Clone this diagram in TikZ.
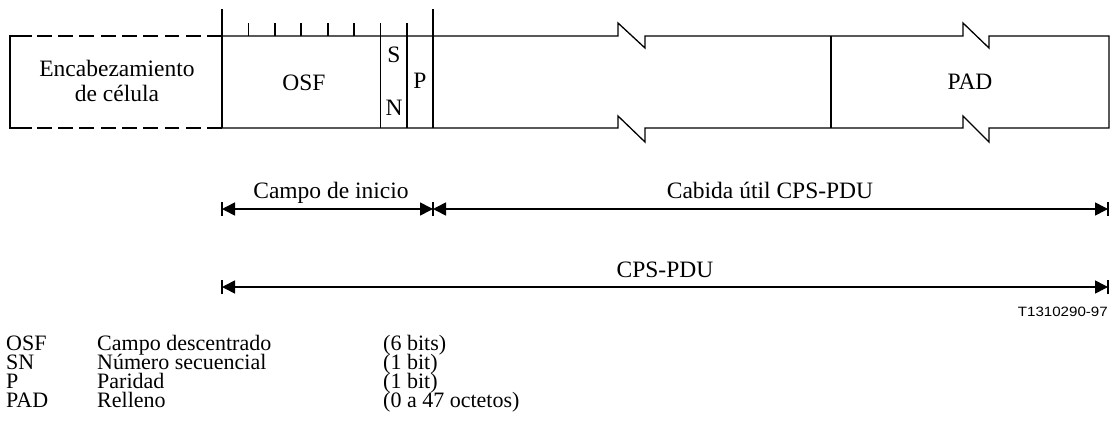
\documentclass[tikz,border=0pt]{standalone}
\usepackage{fontspec}
\setmainfont{Liberation Serif}
\newfontfamily\figsans{Liberation Sans}
\usetikzlibrary{arrows.meta}
\begin{document}
\begin{tikzpicture}[x=1pt,y=-1pt,
  frame/.style={line width=1.3pt},
  tick/.style={line width=1.8pt},
  headdash/.style={line width=1.8pt,dash pattern=on 14.8pt off 6.5pt},
  dim/.style={line width=1.6pt,{Triangle[length=13pt,width=13pt]}-{Triangle[length=13pt,width=13pt]}},
  dimbar/.style={line width=1.8pt},
  txt/.style={inner sep=0pt,anchor=base,font=\fontsize{23.5}{28}\selectfont},
  leg/.style={inner sep=0pt,anchor=base west,text height=13pt,text depth=3.5pt,
    font=\fontsize{22}{26}\selectfont},
]
\useasboundingbox (0,0) rectangle (1114,439);

% ---- cell header (dashed) ----
\draw[tick] (32,36) -- (10,36) -- (10,128) -- (32,128);
\draw[headdash] (222,36) -- (37,36);
\draw[headdash] (222,128) -- (37,128);
\node[txt] (hdr1) at (117,76) {Encabezamiento};
\node[txt] (hdr2) at (117,101.5) {de célula};

% ---- payload frame with breaks ----
\draw[frame] (222,36) -- (618,36) -- (618,23) -- (645,48) -- (645,36)
  -- (963,36) -- (963,23) -- (989,48) -- (989,36) -- (1109,36)
  -- (1109,128) -- (989,128) -- (989,142) -- (963,116) -- (963,128)
  -- (645,128) -- (645,142) -- (618,116) -- (618,128) -- (222,128);

% dividers and bit ticks
\draw[tick] (222,9) -- (222,128);
\draw[tick] (433,9) -- (433,128);
\draw[tick] (380.5,23) -- (380.5,128);
\draw[tick] (407,23) -- (407,128);
\draw[frame] (831,36) -- (831,128);
\foreach \x in {248.4,274.8,301.2,327.6,354}
  \draw[tick] (\x,23) -- (\x,36);

\node[txt] (osf) at (304,90) {OSF};
\node[txt] (s) at (394,62) {S};
\node[txt] (n) at (394,115) {N};
\node[txt] (p) at (420,88.5) {P};
\node[txt] (pad) at (970,89) {PAD};

% ---- dimension lines ----
\coordinate (d1a) at (222,209);
\coordinate (d1b) at (433,209);
\coordinate (d1c) at (1108,209);
\coordinate (d2a) at (222,287);
\coordinate (d2b) at (1108,287);
\foreach \c in {d1a,d1b,d1c,d2a,d2b}
  \draw[dimbar] ([yshift=-7pt]\c) -- ([yshift=7pt]\c);
\draw[dim] (d1a) -- (d1b);
\draw[dim] (d1b) -- (d1c);
\draw[dim] (d2a) -- (d2b);
\node[txt] (campo) at (331,198) {Campo de inicio};
\node[txt] (cabida) at (770,198) {Cabida útil CPS-PDU};
\node[txt] (cps) at (665,277) {CPS-PDU};

\node[inner sep=0pt,anchor=base east,font=\figsans\fontsize{13.5}{16}\selectfont] (ref) at (1108,316.5) {\scalebox{1.12}[1]{T1310290-97}};

% ---- legend ----
\node[leg] (l1a) at (6,350) {OSF};
\node[leg] (l1b) at (97,350) {Campo descentrado};
\node[leg] (l1c) at (383,350) {(6 bits)};
\node[leg] (l2a) at (6,369) {SN};
\node[leg] (l2b) at (97,369) {Número secuencial};
\node[leg] (l2c) at (383,369) {(1 bit)};
\node[leg] (l3a) at (6,388) {P};
\node[leg] (l3b) at (97,388) {Paridad};
\node[leg] (l3c) at (383,388) {(1 bit)};
\node[leg] (l4a) at (6,407) {PAD};
\node[leg] (l4b) at (97,407) {Relleno};
\node[leg] (l4c) at (383,407) {(0 a 47 octetos)};
\end{tikzpicture}
\end{document}
